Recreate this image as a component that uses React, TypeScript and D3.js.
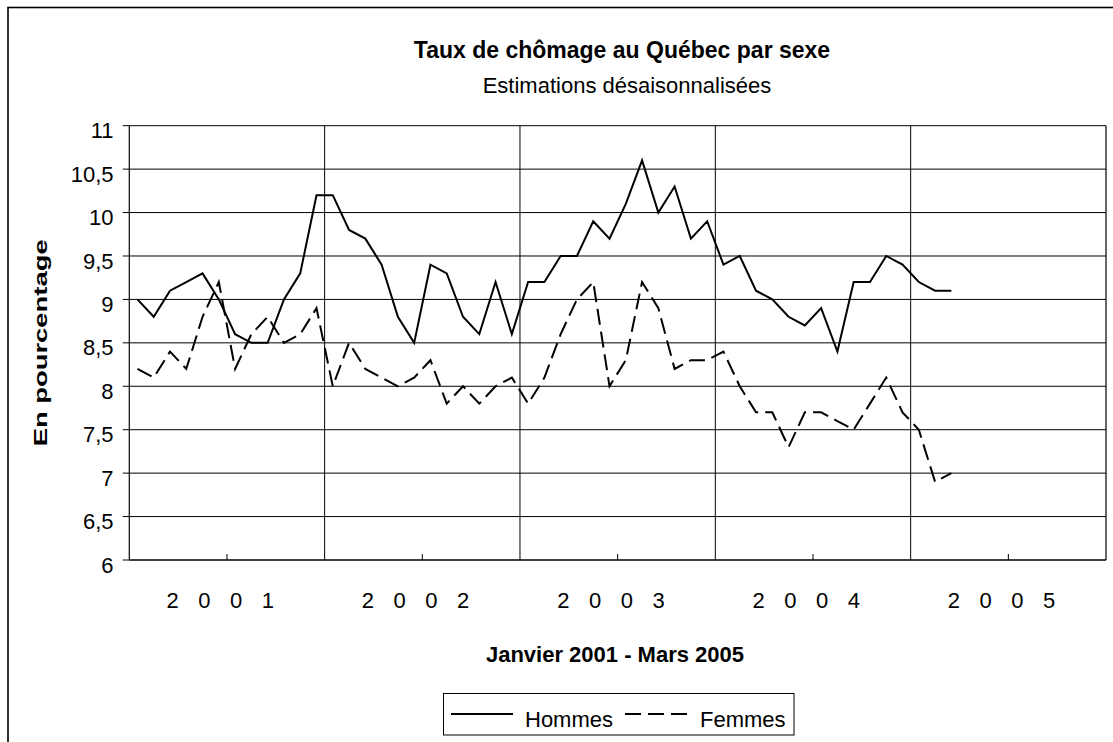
import * as d3 from "d3";

const YEARS = ["2001", "2002", "2003", "2004", "2005"];
const MONTHS = YEARS.flatMap((y) => d3.range(1, 13).map((m) => `${y}-${String(m).padStart(2, "0")}`));

// Janvier 2001 - Mars 2005, taux en %
const HOMMES = [
  9.0, 8.8, 9.1, 9.2, 9.3, 9.0, 8.6, 8.5, 8.5, 9.0, 9.3, 10.2,
  10.2, 9.8, 9.7, 9.4, 8.8, 8.5, 9.4, 9.3, 8.8, 8.6, 9.2, 8.6,
  9.2, 9.2, 9.5, 9.5, 9.9, 9.7, 10.1, 10.6, 10.0, 10.3, 9.7, 9.9,
  9.4, 9.5, 9.1, 9.0, 8.8, 8.7, 8.9, 8.4, 9.2, 9.2, 9.5, 9.4,
  9.2, 9.1, 9.1,
];
const FEMMES = [
  8.2, 8.1, 8.4, 8.2, 8.8, 9.2, 8.2, 8.6, 8.8, 8.5, 8.6, 8.9,
  8.0, 8.5, 8.2, 8.1, 8.0, 8.1, 8.3, 7.8, 8.0, 7.8, 8.0, 8.1,
  7.8, 8.1, 8.6, 9.0, 9.2, 8.0, 8.3, 9.2, 8.9, 8.2, 8.3, 8.3,
  8.4, 8.0, 7.7, 7.7, 7.3, 7.7, 7.7, 7.6, 7.5, 7.8, 8.1, 7.7,
  7.5, 6.9, 7.0,
];
const Y_TICKS = [6, 6.5, 7, 7.5, 8, 8.5, 9, 9.5, 10, 10.5, 11];

const W = 1113;
const H = 742;
const PLOT = { left: 129.3, right: 1106, top: 125.7, bottom: 560 };
const FONT = "'Liberation Sans', Arial, sans-serif";
const DASH = "16,7";

export default function App() {
  const x = d3.scaleBand<string>().domain(MONTHS).range([PLOT.left, PLOT.right]).padding(0);
  const y = d3.scaleLinear().domain([6, 11]).range([PLOT.bottom, PLOT.top]);
  const cx = (i: number) => (x(MONTHS[i]) ?? 0) + x.bandwidth() / 2;

  const line = d3
    .line<number>()
    .x((_, i) => cx(i))
    .y((d) => y(d));

  const fmt = (v: number) => String(v).replace(".", ",");

  const yearEdges = YEARS.slice(1).map((yr) => x(`${yr}-01`) ?? 0);
  const halfTicks = YEARS.map((yr) => x(`${yr}-07`) ?? 0);

  return (
    <svg
      width={W}
      height={H}
      style={{ position: "absolute", left: 0, top: 0, background: "#fff" }}
      fontFamily={FONT}
    >
      {/* chart frame, extends past the picture */}
      <rect x={8} y={7.5} width={2000} height={2000} fill="none" stroke="#000" strokeWidth={1.6} />

      <text x={622} y={58} textAnchor="middle" fontSize={23} fontWeight="bold" fill="#000">
        Taux de chômage au Québec par sexe
      </text>
      <text x={627} y={93} textAnchor="middle" fontSize={22} fill="#000">
        Estimations désaisonnalisées
      </text>

      {/* horizontal grid */}
      {Y_TICKS.map((t) => (
        <g key={t}>
          <line x1={PLOT.left} x2={PLOT.right} y1={y(t)} y2={y(t)} stroke="#000" strokeWidth={1} />
          <line x1={PLOT.left - 6.5} x2={PLOT.left} y1={y(t)} y2={y(t)} stroke="#000" strokeWidth={1} />
          <text x={113.5} y={y(t) + 12.6} textAnchor="end" fontSize={22} fill="#000">
            {fmt(t)}
          </text>
        </g>
      ))}

      {/* year separators and half-year ticks */}
      {yearEdges.map((xe, i) => (
        <line key={i} x1={xe} x2={xe} y1={PLOT.top} y2={PLOT.bottom} stroke="#000" strokeWidth={1} />
      ))}
      {halfTicks.map((xt, i) => (
        <line key={i} x1={xt} x2={xt} y1={PLOT.bottom - 6} y2={PLOT.bottom} stroke="#000" strokeWidth={1} />
      ))}

      <line x1={PLOT.left} x2={PLOT.left} y1={PLOT.top} y2={PLOT.bottom} stroke="#000" strokeWidth={1.2} />
      <line x1={PLOT.right} x2={PLOT.right} y1={PLOT.top} y2={PLOT.bottom} stroke="#000" strokeWidth={1.2} />
      <line x1={PLOT.left} x2={PLOT.right} y1={PLOT.bottom} y2={PLOT.bottom} stroke="#000" strokeWidth={1.2} />

      {/* series */}
      <path d={line(HOMMES) ?? ""} fill="none" stroke="#000" strokeWidth={2} strokeLinejoin="miter" />
      <path d={line(FEMMES) ?? ""} fill="none" stroke="#000" strokeWidth={2} strokeDasharray={DASH} />

      {/* year labels */}
      {YEARS.map((yr) => {
        const c = (x(`${yr}-01`) ?? 0) + x.bandwidth() * 6;
        return (
          <text key={yr} x={c - 3.4} y={608} textAnchor="middle" fontSize={22} letterSpacing={6.7} fill="#000">
            {yr.split("").join(" ")}
          </text>
        );
      })}

      <text x={615} y={662} textAnchor="middle" fontSize={22} fontWeight="bold" fill="#000">
        Janvier 2001 - Mars 2005
      </text>

      <text
        transform={`translate(46.5,${(PLOT.top + PLOT.bottom) / 2}) rotate(-90)`}
        textAnchor="middle"
        fontSize={18}
        fontWeight="bold"
        textLength={207}
        lengthAdjust="spacingAndGlyphs"
        fill="#000"
      >
        En pourcentage
      </text>

      {/* legend */}
      <rect x={443.5} y={693.5} width={350.5} height={41.5} fill="#fff" stroke="#000" strokeWidth={1} />
      <line x1={451} x2={513} y1={714} y2={714} stroke="#000" strokeWidth={2} />
      <text x={525} y={727} fontSize={22} fill="#000">Hommes</text>
      <line x1={625} x2={688} y1={714} y2={714} stroke="#000" strokeWidth={2} strokeDasharray={DASH} />
      <text x={700} y={727} fontSize={22} fill="#000">Femmes</text>
    </svg>
  );
}
